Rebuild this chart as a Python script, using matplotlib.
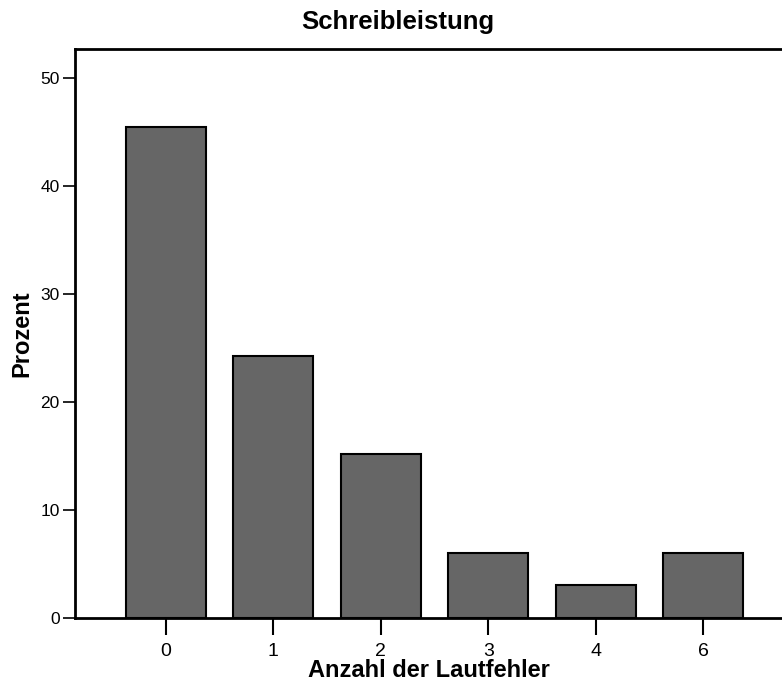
import matplotlib
matplotlib.use("Agg")
import matplotlib.pyplot as plt
import numpy as np

categories = ["0", "1", "2", "3", "4", "6"]
percent = [45.45, 24.24, 15.15, 6.06, 3.03, 6.06]
yticks = [0, 10, 20, 30, 40, 50]

plt.rcParams['font.family'] = ['Liberation Sans', 'DejaVu Sans']

fig = plt.figure(figsize=(7.82, 6.93), dpi=100)
ax = fig.add_axes([75/782, 75/693, 1 - 75/782, (618-49)/693])

x = np.arange(len(categories))
ax.bar(x, percent, width=0.745, color="#666666", edgecolor="black", linewidth=1.5, zorder=2)

ax.set_xlim(-0.847, 5.735)
ax.set_ylim(0, 52.7)
ax.set_xticks(x)
ax.set_xticklabels(categories)
ax.set_yticks(yticks)
ax.tick_params(axis='y', direction='out', length=9, width=1.2, labelsize=12.5, pad=2)
ax.tick_params(axis='x', direction='out', length=12, width=1.5, labelsize=14, pad=6)

for s in ["left", "top", "bottom"]:
    ax.spines[s].set_linewidth(2)
ax.spines["right"].set_visible(False)

ax.set_xlabel("Anzahl der Lautfehler", fontsize=17, fontweight="bold", labelpad=-1)
ax.set_ylabel("Prozent", fontsize=17, fontweight="bold", labelpad=5)
fig.text(398/782, 1 - 22/693, "Schreibleistung", fontsize=18.5, fontweight="bold", ha="center", va="center")

fig.savefig("out.png", dpi=100)
